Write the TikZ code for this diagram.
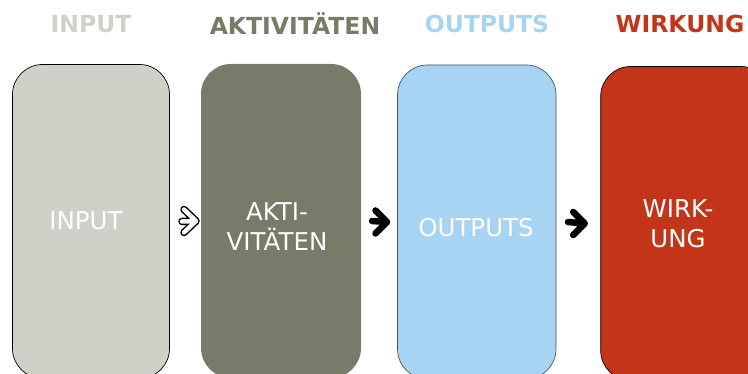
\documentclass[tikz,border=0pt]{standalone}
\usepackage{fontspec}
\setmainfont{DejaVu Sans}
\usetikzlibrary{calc}
\definecolor{cin}{HTML}{D0D0C8}
\definecolor{cact}{HTML}{7A7A68}
\definecolor{cout}{HTML}{A8D4F4}
\definecolor{cwir}{HTML}{C43418}
\definecolor{cborder}{HTML}{46525A}
\begin{document}
\begin{tikzpicture}[x=1pt,y=-1pt,
  box/.style={rectangle, rounded corners=30pt, inner sep=0pt, outer sep=0pt,
    minimum width=157pt, minimum height=314pt, line width=0.7pt},
  head/.style={font=\fontsize{23.5}{28}\selectfont\bfseries, inner sep=0pt, anchor=center},
  label/.style={font=\fontsize{24.5}{30}\selectfont, text=white, align=center, inner sep=0pt},
  solidarrow/.style={line width=6.5pt, line cap=round, line join=round, black},
  hollowout/.style={line width=7.5pt, line cap=round, line join=round, black},
  hollowin/.style={line width=4.5pt, line cap=round, line join=round, white}]
\useasboundingbox (0,0) rectangle (748,374);
% boxes
\node[box, fill=cin, draw=black] (in) at (91,221.5) {};
\node[box, fill=cact, minimum width=160pt] (act) at (281,221) {};
\node[box, fill=cout, draw=cborder, minimum width=158.5pt] (out) at (476.75,222) {};
\node[box, fill=cwir, draw=black, minimum width=170pt] (wir) at (685.7,223.5) {};
% headings
\node[head, text=cin] (hin) at (91,24) {INPUT};
\node[head, text=cact] (hact) at (295,24) {AKTIVITÄTEN};
\node[head, text=cout] (hout) at (487,24) {OUTPUTS};
\node[head, text=cwir] (hwir) at (680,24) {WIRKUNG};
% box texts
\node[label] (tin) at (86,221) {INPUT};
\node[label] (tact) at (277,227) {AKTI-\\VITÄTEN};
\node[label] (tout) at (476,228) {OUTPUTS};
\node[label] (twir) at (678,224) {WIRK-\\UNG};
% arrows
\coordinate (t1) at ($(act.west)+(-5,0)$);
\coordinate (t2) at ($(out.west)+(-10.5,0)$);
\coordinate (t3) at ($(wir.west)+(-16,0)$);
\draw[hollowout] ($(in.east)+(12.5,0)$) -- (t1) ($(t1)+(-12,-11.5)$) -- (t1) -- ($(t1)+(-12,11.5)$);
\draw[hollowin] ($(in.east)+(12.5,0)$) -- (t1) ($(t1)+(-12,-11.5)$) -- (t1) -- ($(t1)+(-12,11.5)$);
\draw[solidarrow] ($(act.east)+(11,0)$) -- (t2) ($(t2)+(-11.5,-11.5)$) -- (t2) -- ($(t2)+(-11.5,11.5)$);
\draw[solidarrow] ($(out.east)+(12,0)$) -- (t3) ($(t3)+(-11.5,-11.5)$) -- (t3) -- ($(t3)+(-11.5,11.5)$);
\end{tikzpicture}
\end{document}
